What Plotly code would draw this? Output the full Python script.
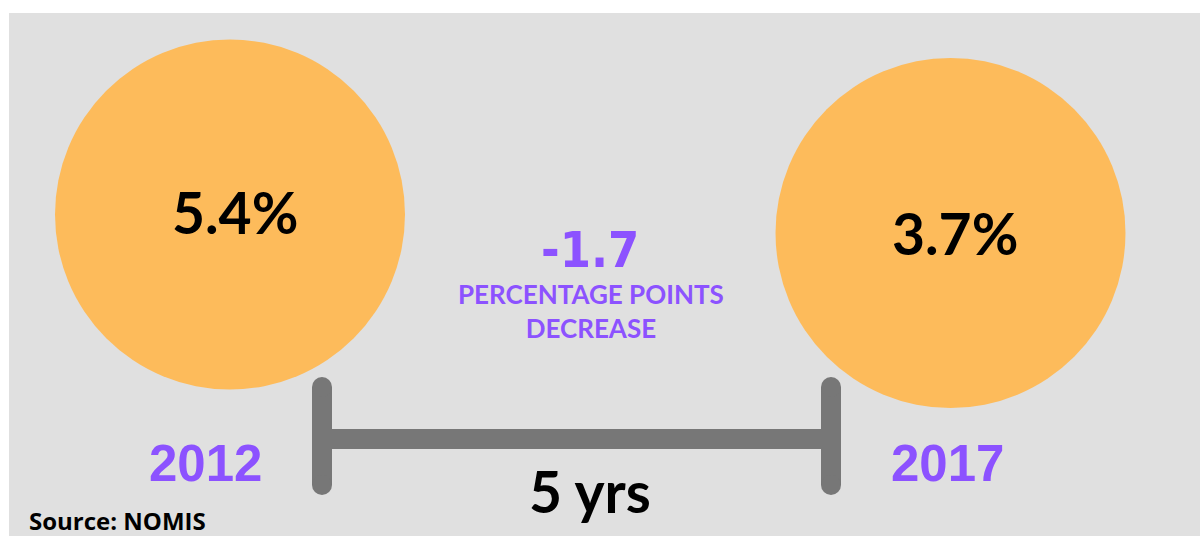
import plotly.graph_objects as go

# Unemployment rate at the start and end of the period
years = [2012, 2017]
rates = [5.4, 3.7]

# Layout positions (pixels, y measured downward)
circle_x = [230, 950.5]
circle_y = [214.5, 233]
circle_d = 350
year_label_x = [205, 947]
value_label_y = [211.5, 233]
value_label_x = [235, 955]
timeline_x = [322, 831]
timeline_y = 439
tick_top, tick_bottom = 387, 485

ORANGE = "#FDBB5B"
PANEL = "#E0E0E0"
BAR = "#777777"
PURPLE = "#8C52FF"

fig = go.Figure()

# Rate circles
fig.add_trace(go.Scatter(
    x=circle_x, y=circle_y, mode="markers",
    marker=dict(size=circle_d, color=ORANGE, line=dict(width=0)),
    hoverinfo="skip", showlegend=False,
))

# Timeline: horizontal bar and two rounded end ticks
fig.add_trace(go.Scatter(
    x=timeline_x, y=[timeline_y, timeline_y], mode="lines",
    line=dict(color=BAR, width=20), hoverinfo="skip", showlegend=False,
))
for tx in timeline_x:
    fig.add_trace(go.Scatter(
        x=[tx, tx], y=[tick_top, tick_bottom], mode="lines+markers",
        line=dict(color=BAR, width=20),
        marker=dict(size=20, color=BAR, line=dict(width=0)),
        hoverinfo="skip", showlegend=False,
    ))

annotations = []
for i in range(2):
    annotations.append(dict(
        x=value_label_x[i], y=value_label_y[i], text=f"<b>{rates[i]}%</b>",
        showarrow=False, xanchor="center", yanchor="middle",
        font=dict(family="Lato", size=57, color="black"),
    ))
    annotations.append(dict(
        x=year_label_x[i], y=463, text=f"<b>{years[i]}</b>",
        showarrow=False, xanchor="center", yanchor="middle",
        font=dict(family="Liberation Sans", size=51, color=PURPLE),
    ))

change = round(rates[1] - rates[0], 1)
annotations += [
    dict(x=590, y=250, text=f"<b>{change}</b>", showarrow=False,
         xanchor="center", yanchor="middle",
         font=dict(family="DejaVu Sans Condensed", size=50, color=PURPLE)),
    dict(x=591, y=311, text="<b>PERCENTAGE POINTS<br>DECREASE</b>", showarrow=False,
         xanchor="center", yanchor="middle", align="center",
         font=dict(family="Lato", size=26, color=PURPLE)),
    dict(x=590, y=491, text=f"<b>{years[1] - years[0]} yrs</b>", showarrow=False,
         xanchor="center", yanchor="middle",
         font=dict(family="Lato", size=57, color="black")),
    dict(x=27, y=520, text="<b>Source: NOMIS</b>", showarrow=False,
         xanchor="left", yanchor="middle",
         font=dict(family="Open Sans", size=24, color="black")),
]

fig.update_layout(
    width=1200, height=536,
    margin=dict(l=0, r=0, t=0, b=0),
    paper_bgcolor="white", plot_bgcolor="white",
    xaxis=dict(range=[0, 1200], visible=False, fixedrange=True),
    yaxis=dict(range=[536, 0], visible=False, fixedrange=True),
    shapes=[dict(type="rect", xref="x", yref="y", x0=9, x1=1200, y0=13, y1=536,
                 fillcolor=PANEL, line=dict(width=0), layer="below")],
    annotations=annotations,
)

fig.write_html("out.html")
